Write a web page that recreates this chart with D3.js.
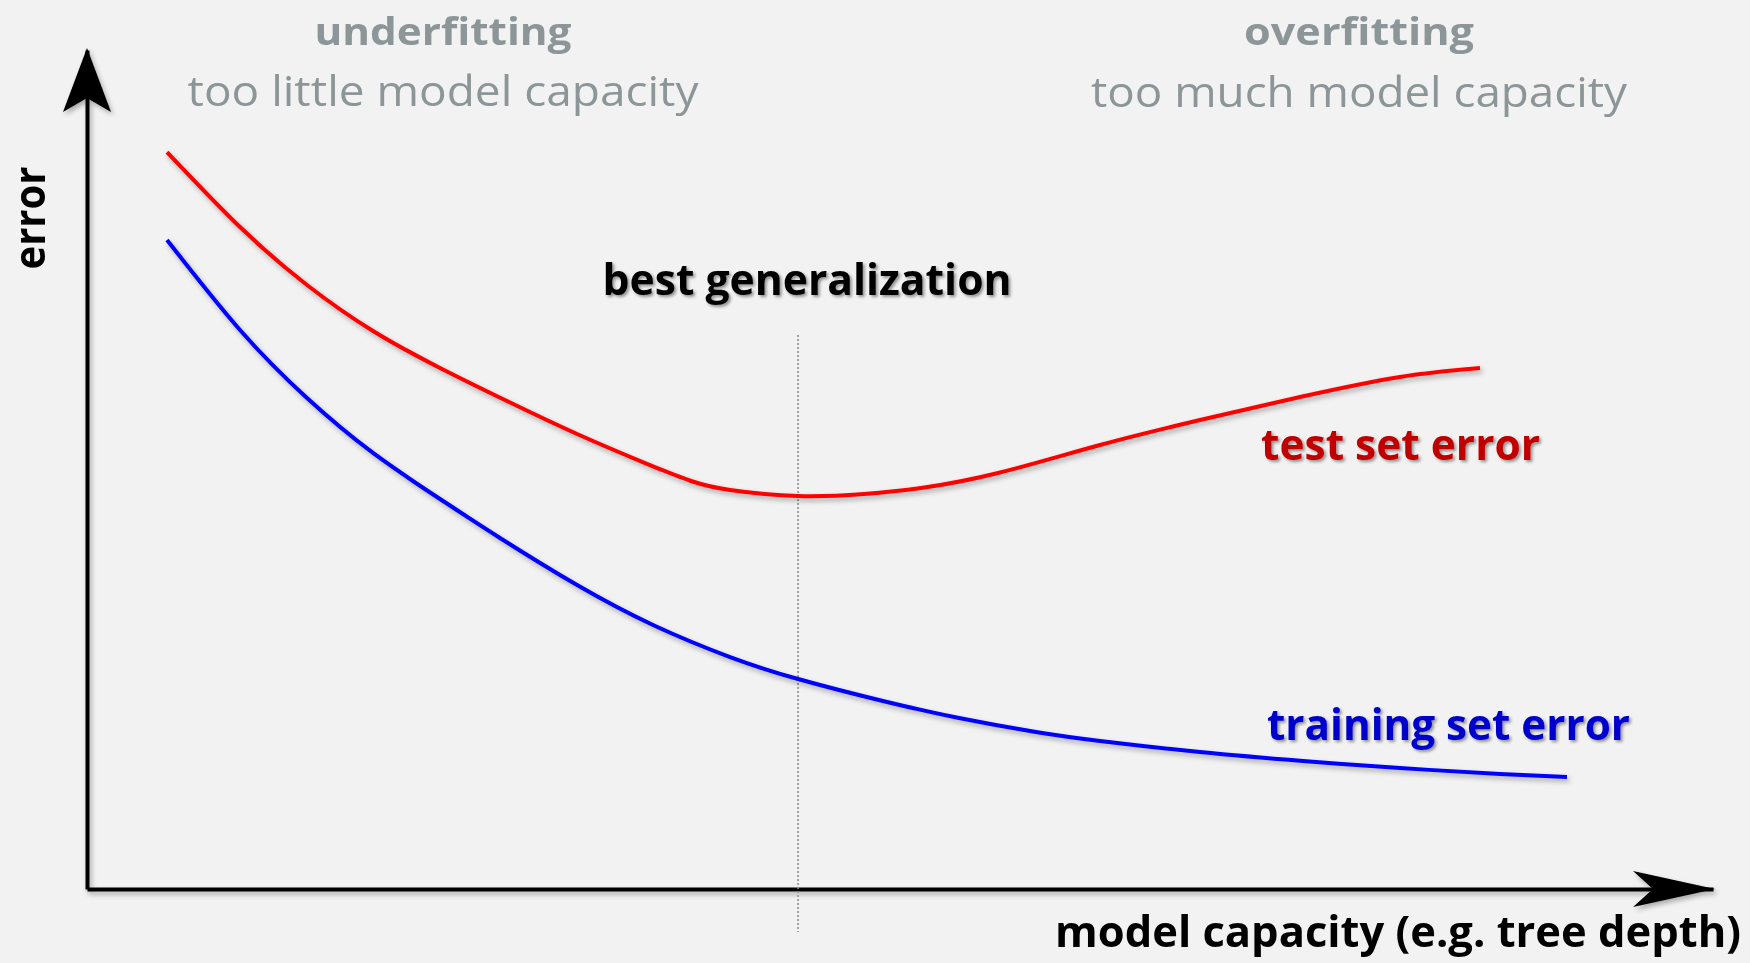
<!DOCTYPE html>
<html>
<head>
<meta charset="utf-8">
<script src="https://cdn.jsdelivr.net/npm/d3@7"></script>
<style>
  body { margin: 0; background: #f2f2f2; }
  text { font-family: "Open Sans", sans-serif; }
</style>
</head>
<body>
<div id="chart"></div>
<script>
// test set error (red)
const testCapacity = [4.92, 9.41, 13.53, 17.59, 21.71, 25.83, 30.14, 34.32, 37.15, 39.55, 43.73, 47.79, 51.29, 56.03, 62.30, 68.45, 74.60, 80.75, 85.67];
const testError    = [87.84, 78.90, 71.99, 66.51, 62.10, 58.16, 54.23, 50.77, 48.63, 47.56, 46.84, 47.08, 47.79, 49.58, 52.92, 55.90, 58.64, 61.03, 62.10];

// training set error (blue)
const trainCapacity = [4.92, 9.41, 13.53, 17.59, 21.71, 25.40, 30.14, 34.81, 39.55, 43.73, 48.95, 53.63, 58.36, 62.30, 68.45, 74.79, 80.75, 86.90, 91.02];
const trainError    = [77.35, 66.63, 58.52, 51.97, 46.48, 41.84, 36.23, 31.47, 27.65, 25.03, 22.41, 20.38, 18.71, 17.64, 16.33, 15.26, 14.42, 13.71, 13.35];

const regionTitles = ["underfitting", "overfitting"];
const regionSubtitles = ["too little model capacity", "too much model capacity"];
const seriesLabels = ["test set error", "training set error"];
const xTitle = "model capacity (e.g. tree depth)";
const yTitle = "error";
const bestLabel = "best generalization";

const width = 1750, height = 963;

const svg = d3.select("#chart").append("svg")
    .attr("width", width)
    .attr("height", height)
    .style("display", "block")
    .style("background", "#f2f2f2");

const defs = svg.append("defs");
defs.append("filter").attr("id", "shadow")
    .attr("x", "-10%").attr("y", "-10%").attr("width", "120%").attr("height", "130%")
  .append("feDropShadow")
    .attr("dx", 2).attr("dy", 3).attr("stdDeviation", 2.5)
    .attr("flood-color", "#000").attr("flood-opacity", 0.3);
defs.append("filter").attr("id", "textShadow")
    .attr("x", "-5%").attr("y", "-20%").attr("width", "110%").attr("height", "150%")
  .append("feDropShadow")
    .attr("dx", 2).attr("dy", 2).attr("stdDeviation", 1.5)
    .attr("flood-color", "#000").attr("flood-opacity", 0.4);

const x = d3.scaleLinear().domain([0, 100]).range([87, 1713]);
const y = d3.scaleLinear().domain([0, 100]).range([889, 50]);

// + AXES (no ticks, just the domain lines with arrowheads)
const axes = svg.append("g").attr("filter", "url(#shadow)");
axes.append("g")
    .attr("transform", `translate(0,${y(0)})`)
    .call(d3.axisBottom(x).ticks(0).tickSizeOuter(0))
    .call(g => g.select(".domain").attr("stroke", "#000").attr("stroke-width", 4));
axes.append("g")
    .attr("transform", `translate(${x(0)},0)`)
    .call(d3.axisLeft(y).ticks(0).tickSizeOuter(0))
    .call(g => g.select(".domain").attr("stroke", "#000").attr("stroke-width", 4));

const xEnd = x.range()[1], y0 = y(0);
axes.append("path")
    .attr("d", `M${xEnd + 2},${y0} L${xEnd - 80},${y0 - 18} L${xEnd - 60},${y0} L${xEnd - 80},${y0 + 18} Z`)
    .attr("fill", "#000");
const yTop = y.range()[1], x0 = x(0);
axes.append("path")
    .attr("d", `M${x0},${yTop - 2} L${x0 - 24},${yTop + 62} L${x0},${yTop + 48} L${x0 + 24},${yTop + 62} Z`)
    .attr("fill", "#000");

// best generalization marker at the minimum of the test error
const iBest = d3.minIndex(testError);
const xBest = x(testCapacity[iBest]);
svg.append("line")
    .attr("x1", xBest).attr("x2", xBest)
    .attr("y1", 335).attr("y2", 932)
    .attr("stroke", "#8f8f8f")
    .attr("stroke-width", 1.6)
    .attr("stroke-dasharray", "2,2");

// + CURVES
const lineFunc = d3.line()
    .x(d => x(d[0]))
    .y(d => y(d[1]))
    .curve(d3.curveNatural);

const series = [
  { pts: d3.zip(testCapacity, testError), color: "#ff0000" },
  { pts: d3.zip(trainCapacity, trainError), color: "#0000ff" }
];
svg.selectAll("path.trend")
    .data(series)
    .join("path")
    .attr("class", "trend")
    .attr("fill", "none")
    .attr("stroke", d => d.color)
    .attr("stroke-width", 4)
    .attr("filter", "url(#shadow)")
    .attr("d", d => lineFunc(d.pts));

// + LABELS
function label(txt, px, py, opts) {
  const t = svg.append("text")
      .attr("x", px).attr("y", py)
      .attr("text-anchor", opts.anchor || "start")
      .attr("font-size", opts.size)
      .attr("font-weight", opts.weight || 700)
      .attr("fill", opts.color || "#000")
      .attr("textLength", opts.len)
      .attr("lengthAdjust", "spacingAndGlyphs")
      .text(txt);
  if (opts.shadow) t.attr("filter", "url(#textShadow)");
  if (opts.rotate) t.attr("transform", `rotate(-90,${px},${py})`);
  return t;
}

const grey = "#8c9597";
label(regionTitles[0], 443, 45, { anchor: "middle", size: 37, color: grey, len: 257 });
label(regionSubtitles[0], 443, 106, { anchor: "middle", size: 42, weight: 400, color: grey, len: 511 });
label(regionTitles[1], 1359, 45, { anchor: "middle", size: 37, color: grey, len: 230 });
label(regionSubtitles[1], 1359, 107, { anchor: "middle", size: 42, weight: 400, color: grey, len: 536 });

label(bestLabel, xBest + 9, 295, { anchor: "middle", size: 43, len: 409, shadow: true });
label(seriesLabels[0], 1261, 460, { size: 43, color: "#c00000", len: 279, shadow: true });
label(seriesLabels[1], 1267, 740, { size: 43, color: "#0000cc", len: 363, shadow: true });
label(xTitle, 1055, 947, { size: 43, len: 686 });
label(yTitle, 45, 218, { anchor: "middle", size: 43, len: 103, rotate: true });
</script>
</body>
</html>
